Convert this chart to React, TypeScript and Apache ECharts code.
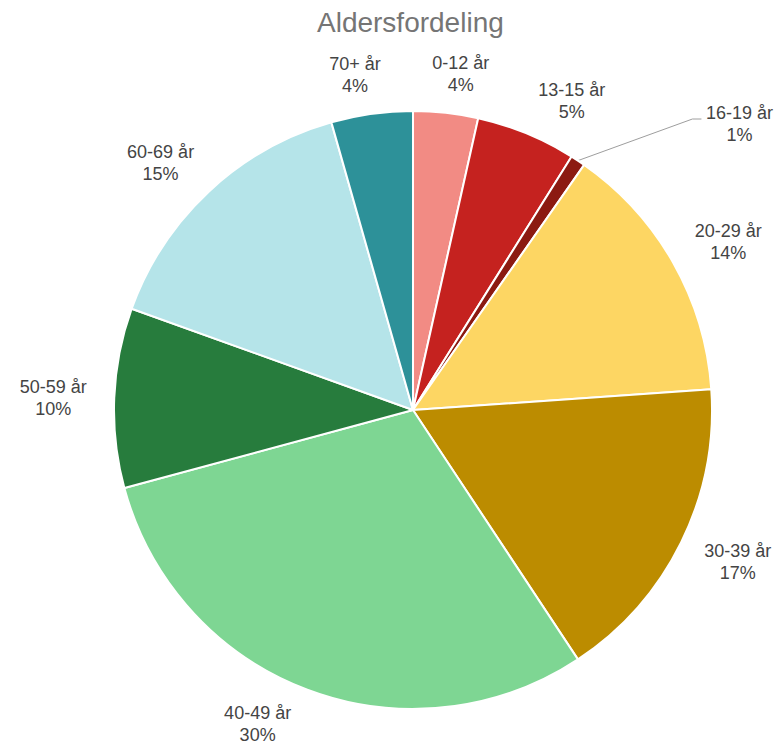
import React, { useEffect, useRef } from "react";
import * as echarts from "echarts";

// ---- data ----
const titleText = "Aldersfordeling";
const categories = [
  "0-12 år",
  "13-15 år",
  "16-19 år",
  "20-29 år",
  "30-39 år",
  "40-49 år",
  "50-59 år",
  "60-69 år",
  "70+ år",
];
const shares = [3.5, 5.4, 0.8, 14.2, 16.8, 30.1, 9.7, 15.1, 4.4];
const colors = [
  "#F28B84",
  "#C5221F",
  "#8C1A11",
  "#FDD663",
  "#BC8C00",
  "#7ED693",
  "#277C3D",
  "#B5E4E9",
  "#2D9199",
];

// ---- layout ----
const W = 776;
const H = 747;
const CX = 413;
const CY = 410;
const R = 299;
const labelAngleShift = [1.8, 4.9, 0, 1.5, -1.2, 5.6, -0.5, -2.6, -1.9];
const calloutIndex = 2;
const FONT = "'Liberation Sans', Arial, Helvetica, sans-serif";

const total = shares.reduce((a, b) => a + b, 0);
const midAngles: number[] = [];
{
  let acc = 0;
  for (const v of shares) {
    const a0 = (acc / total) * 360;
    acc += v;
    const a1 = (acc / total) * 360;
    midAngles.push((a0 + a1) / 2);
  }
}

export default function App() {
  const ref = useRef<HTMLDivElement>(null);
  useEffect(() => {
    if (!ref.current) return;
    const chart = echarts.init(ref.current, undefined, { renderer: "svg" });
    const toRad = (d: number) => (d * Math.PI) / 180;
    chart.setOption({
      animation: false,
      backgroundColor: "#ffffff",
      title: {
        text: titleText,
        left: 317,
        top: 8,
        padding: 0,
        textStyle: {
          fontSize: 28,
          fontWeight: "normal",
          color: "#757575",
          fontFamily: FONT,
        },
      },
      series: [
        {
          type: "pie",
          center: [CX, CY],
          radius: [0, R],
          startAngle: 90,
          clockwise: true,
          avoidLabelOverlap: false,
          silent: true,
          itemStyle: { borderColor: "#ffffff", borderWidth: 2 },
          label: {
            show: true,
            position: "outside",
            formatter: (p: any) => `${p.name}\n${Math.round(p.percent)}%`,
            fontSize: 18,
            lineHeight: 22,
            color: "#444444",
            fontFamily: FONT,
          },
          labelLine: { show: false, length: 20, length2: 0 },
          labelLayout: (p: any) => {
            const i = p.dataIndex;
            const mid = midAngles[i];
            if (i === calloutIndex) {
              const phi = toRad(mid + 15.3);
              const rr = 434;
              const lx = CX + rr * Math.sin(phi);
              const ly = CY - rr * Math.cos(phi);
              const a = toRad(mid);
              const sx = CX + R * Math.sin(a);
              const sy = CY - R * Math.cos(a);
              return {
                x: lx,
                y: ly,
                align: "center",
                verticalAlign: "middle",
                labelLinePoints: [
                  [sx, sy],
                  [lx - 47, ly - 5],
                  [lx - 38, ly - 5],
                ],
              };
            }
            const th = toRad(mid + labelAngleShift[i]);
            const down = Math.max(0, -Math.cos(th));
            const rl = 336 + 24 * Math.abs(Math.sin(th)) + 5 * down * down;
            return {
              x: CX + rl * Math.sin(th),
              y: CY - rl * Math.cos(th),
              align: "center",
              verticalAlign: "middle",
            };
          },
          data: categories.map((name, i) => {
            const item: any = {
              name,
              value: shares[i],
              itemStyle: { color: colors[i] },
            };
            if (i === calloutIndex) {
              item.labelLine = {
                show: true,
                lineStyle: { color: "#9E9E9E", width: 1 },
              };
            }
            return item;
          }),
        },
      ],
    });
    return () => chart.dispose();
  }, []);
  return (
    <div
      ref={ref}
      style={{ position: "fixed", left: 0, top: 0, width: W, height: H }}
    />
  );
}
